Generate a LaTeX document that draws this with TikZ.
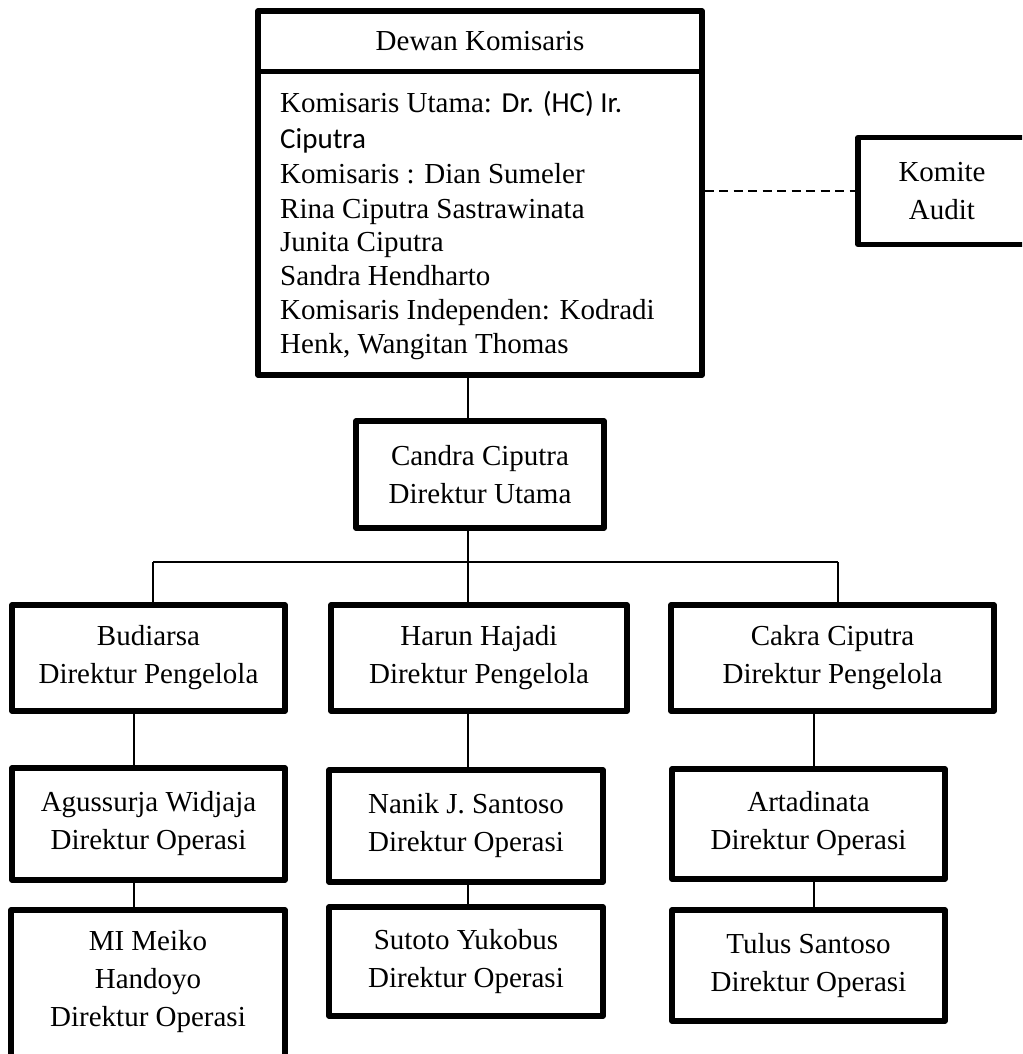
\documentclass[tikz,border=0pt]{standalone}
\usepackage{fontspec}
\setmainfont{Liberation Serif}
\newfontfamily\calibrifont{Carlito}
\begin{document}
\begin{tikzpicture}[x=1pt,y=-1pt,
  txt/.style={font=\fontsize{29}{38}\selectfont, inner sep=0pt},
  box/.style={txt, draw, line width=5.2pt, line join=round, align=center, rectangle},
  link/.style={line width=1.5pt},
  dashlink/.style={line width=1.5pt, dash pattern=on 9pt off 5.5pt}]
\useasboundingbox (0,0) rectangle (1022,1054);
\clip (0,0) rectangle (1022,1054);

% Board of commissioners: title compartment and member list
\node[box, minimum width=444pt, minimum height=60.5pt] (dktitle) at (480,41.25) {Dewan Komisaris};
\node[box, minimum width=444pt, minimum height=303.5pt] (dkbody) at (480,223.25) {};
\node[txt, anchor=base west] (dk1) at (280,113) {Komisaris Utama: {\calibrifont Dr. (HC) Ir.}};
\node[txt, anchor=base west] (dk2) at (280,148) {\calibrifont Ciputra};
\node[txt, anchor=base west] (dk3) at (280,183) {Komisaris : Dian Sumeler};
\node[txt, anchor=base west] (dk4) at (280,218) {Rina Ciputra Sastrawinata};
\node[txt, anchor=base west] (dk5) at (280,251) {Junita Ciputra};
\node[txt, anchor=base west] (dk6) at (280,285) {Sandra Hendharto};
\node[txt, anchor=base west] (dk7) at (280,319) {Komisaris Independen: Kodradi};
\node[txt, anchor=base west] (dk8) at (280,353) {Henk, Wangitan Thomas};

% Audit committee
\node[box, minimum width=168pt, minimum height=107pt] (komite) at (942,191) {Komite\\Audit};
\draw[dashlink] (komite.west -| dkbody.east) -- (komite.west);

% President director
\node[box, minimum width=248pt, minimum height=107pt] (candra) at (480,474.5) {Candra Ciputra\\Direktur Utama};

% Managing directors
\node[box, minimum width=273pt, minimum height=106pt] (mgA) at (148.5,658) {Budiarsa\\Direktur Pengelola};
\node[box, minimum width=296pt, minimum height=106pt] (mgB) at (479,658) {Harun Hajadi\\Direktur Pengelola};
\node[box, minimum width=323pt, minimum height=106pt] (mgC) at (832.5,658) {Cakra Ciputra\\Direktur Pengelola};

% Operations directors
\node[box, minimum width=273pt, minimum height=112pt] (opA) at (148.5,824) {Agussurja Widjaja\\Direktur Operasi};
\node[box, minimum width=274pt, minimum height=112pt] (opB) at (466,826) {Nanik J. Santoso\\Direktur Operasi};
\node[box, minimum width=273pt, minimum height=110pt] (opC) at (808.5,824) {Artadinata\\Direktur Operasi};

\node[box, minimum width=274pt, minimum height=170pt] (loA) at (148,995) {};
\node[txt, align=center] (loAtext) at (148,981.5) {MI Meiko\\Handoyo\\Direktur Operasi};
\node[box, minimum width=274pt, minimum height=109pt] (loB) at (466,961.5) {Sutoto Yukobus\\Direktur Operasi};
\node[box, minimum width=273pt, minimum height=111pt] (loC) at (808.5,965.5) {Tulus Santoso\\Direktur Operasi};

% Connector guide positions
\coordinate (spine) at (468,0);
\coordinate (busA) at (153,562);
\coordinate (busC) at (838,562);
\coordinate (colA) at (134,0);
\coordinate (colC) at (814,0);

\draw[link] (dkbody.south -| spine) -- (candra.north -| spine);
\draw[link] (candra.south -| spine) -- (busA -| spine);
\draw[link] (busA) -- (busC);
\draw[link] (busA) -- (busA |- mgA.north);
\draw[link] (busA -| spine) -- (mgB.north -| spine);
\draw[link] (busC) -- (busC |- mgC.north);

\draw[link] (mgA.south -| colA) -- (opA.north -| colA);
\draw[link] (mgB.south -| spine) -- (opB.north -| spine);
\draw[link] (mgC.south -| colC) -- (opC.north -| colC);

\draw[link] (opA.south -| colA) -- (loA.north -| colA);
\draw[link] (opB.south -| spine) -- (loB.north -| spine);
\draw[link] (opC.south -| colC) -- (loC.north -| colC);
\end{tikzpicture}
\end{document}
